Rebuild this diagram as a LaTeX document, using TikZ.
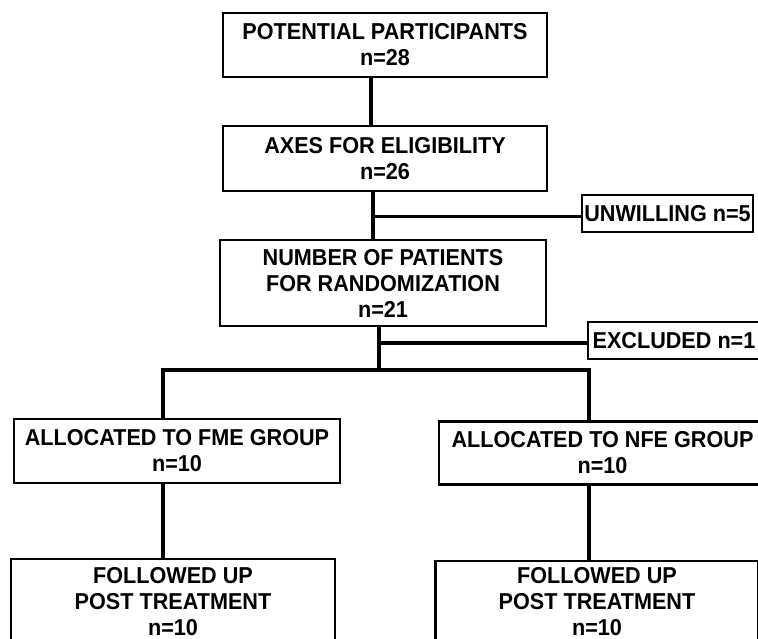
\documentclass[tikz,border=0pt]{standalone}
\usepackage{fontspec}
\setmainfont{Liberation Sans}[FakeStretch=0.94]
\usetikzlibrary{calc}
\begin{document}
\begin{tikzpicture}[x=1pt,y=-1pt,
  box/.style={draw=black,line width=2.2pt,fill=white,inner sep=0pt,align=center,
    font=\fontsize{23}{26}\selectfont\bfseries},
  link/.style={draw=black,line width=3.2pt}]
\useasboundingbox (0,0) rectangle (758,639);
\clip (0,0) rectangle (758,639);
% junction coordinates for connectors
\coordinate (c1) at (371,100);
\coordinate (j1) at (373,216.5);
\coordinate (j2) at (379,343);
\coordinate (j3) at (379,370);
\coordinate (sl) at (163,370);
\coordinate (sr) at (589,370);
% boxes
\node[box,minimum width=324pt,minimum height=64pt] (b1) at (385,45) {POTENTIAL PARTICIPANTS\\n=28};
\node[box,minimum width=324pt,minimum height=65pt] (b2) at (385,158.5) {AXES FOR ELIGIBILITY\\n=26};
\node[box,minimum width=326pt,minimum height=86pt] (b3) at (383,283) {NUMBER OF PATIENTS\\FOR RANDOMIZATION\\n=21};
\node[box,minimum width=171pt,minimum height=37pt] (unw) at (667.5,213.5) {UNWILLING n=5};
\node[box,minimum width=172pt,minimum height=37pt] (exc) at (674,340.5) {EXCLUDED n=1};
\node[box,minimum width=326pt,minimum height=64pt] (fme) at (177,451) {ALLOCATED TO FME GROUP\\n=10};
\node[box,minimum width=327pt,minimum height=63pt] (nfe) at (602.5,453) {ALLOCATED TO NFE GROUP\\n=10};
\node[box,minimum width=324pt,minimum height=89pt] (fu1) at (173,603.5) {FOLLOWED UP\\POST TREATMENT\\n=10\rule[-4pt]{0pt}{0pt}};
\node[box,minimum width=323pt,minimum height=85pt] (fu2) at (597,603.5) {FOLLOWED UP\\POST TREATMENT\\n=10\rule[-4pt]{0pt}{0pt}};
% connectors
\draw[link] (b1.south -| c1) -- (b2.north -| c1);
\draw[link] (b2.south -| j1) -- (b3.north -| j1);
\draw[link] (j1) -- (j1 -| unw.west);
\draw[link] (b3.south -| j3) -- (j3);
\draw[link] (j2) -- (j2 -| exc.west);
\draw[link] (fme.north -| sl) -- (sl) -- (sr) -- (nfe.north -| sr);
\draw[link] (fme.south -| sl) -- (fu1.north -| sl);
\draw[link] (nfe.south -| sr) -- (fu2.north -| sr);
\end{tikzpicture}
\end{document}
